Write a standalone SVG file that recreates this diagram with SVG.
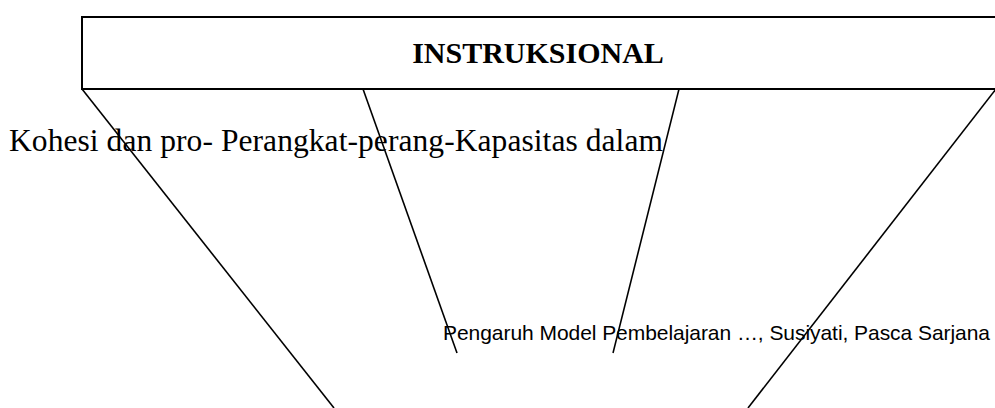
<svg xmlns="http://www.w3.org/2000/svg" width="995" height="408" viewBox="0 0 995 408">
<style>
.bg{fill:#ffffff}
.box{fill:none;stroke:#000;stroke-width:2}
.ln{stroke:#000;stroke-width:1.6;fill:none}
.title{font-family:"Liberation Serif","Times New Roman",serif;font-weight:bold;font-size:30px;fill:#000}
.serif{font-family:"Liberation Serif","Times New Roman",serif;font-size:31.5px;fill:#000}
.sans{font-family:"Liberation Sans",Arial,sans-serif;font-size:21px;fill:#000}
</style>
<rect class="bg" x="0" y="0" width="995" height="408"/>
<g id="node-instruksional">
<path class="box" d="M1000 17 H82 V89 H1000"/>
<text class="title" x="538" y="63" text-anchor="middle">INSTRUKSIONAL</text>
</g>
<g id="label-top">
<text class="serif" x="9" y="151" textLength="654">Kohesi dan pro- Perangkat-perang-Kapasitas dalam</text>
</g>
<g id="label-footer">
<text class="sans" x="443" y="340" textLength="547">Pengaruh Model Pembelajaran …, Susiyati, Pasca Sarjana</text>
</g>
<g id="connectors">
<line class="ln" x1="82" y1="89" x2="334" y2="408"/>
<line class="ln" x1="363" y1="89" x2="457" y2="353"/>
<line class="ln" x1="679" y1="89" x2="613" y2="353"/>
<line class="ln" x1="996" y1="89" x2="748" y2="408"/>
</g>
</svg>
